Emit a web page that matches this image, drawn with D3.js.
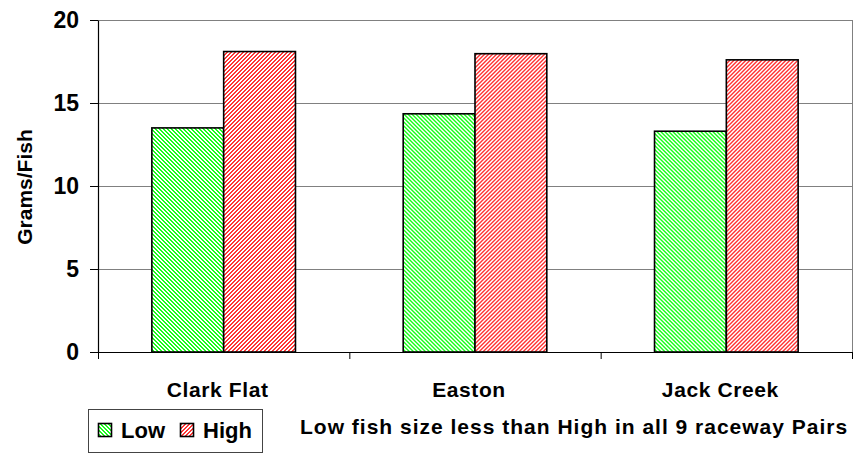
<!DOCTYPE html>
<html>
<head>
<meta charset="utf-8">
<script src="https://cdn.jsdelivr.net/npm/d3@7"></script>
<style>
  html, body { margin: 0; padding: 0; background: #fff; }
  svg { display: block; font-family: Arial, "Liberation Sans", sans-serif; font-weight: bold; }
</style>
</head>
<body>
<svg id="chart" width="854" height="454"></svg>
<script>
// Mean fish weight per hatchery, low vs high groups
const categories = ["Clark Flat", "Easton", "Jack Creek"];
const seriesNames = ["Low", "High"];
const lowValues = [13.5, 14.35, 13.3];
const highValues = [18.1, 17.97, 17.6];
const yTicks = [0, 5, 10, 15, 20];
const yTitle = "Grams/Fish";
const note = "Low fish size less than High in all 9 raceway Pairs";

const seriesValues = [lowValues, highValues];
const seriesColors = ["#1aff1a", "#ff3535"];

const svg = d3.select("#chart");
const plot = { left: 98, right: 852, top: 20, bottom: 352 };

// Diagonal hatch fills
const defs = svg.append("defs");
seriesColors.forEach((c, i) => {
  const p = defs.append("pattern")
    .attr("id", "hatch" + i)
    .attr("patternUnits", "userSpaceOnUse")
    .attr("width", 4).attr("height", 4);
  p.append("rect").attr("width", 4).attr("height", 4).attr("fill", "#fff");
  for (let yy = 0; yy < 4; yy++) {
    for (let xx = 0; xx < 4; xx++) {
      const k = i === 0 ? ((xx - yy + 8) % 4) : ((xx + yy) % 4);
      if (k < 2) p.append("rect").attr("x", xx).attr("y", yy).attr("width", 1).attr("height", 1).attr("fill", c);
    }
  }
});

const x = d3.scaleBand().domain(categories).range([plot.left, plot.right]).paddingInner(0).paddingOuter(0);
const xs = d3.scaleBand().domain(seriesNames).range([0, x.bandwidth()]).paddingInner(0).paddingOuter(0.75);
const y = d3.scaleLinear().domain([0, 20]).range([plot.bottom, plot.top]);

// Gridlines
svg.append("g").selectAll("line").data(yTicks.filter(d => d > 0)).join("line")
  .attr("x1", plot.left).attr("x2", plot.right)
  .attr("y1", d => y(d) + 0.5).attr("y2", d => y(d) + 0.5)
  .attr("stroke", "#808080").attr("stroke-width", 1);

// Plot area right border
svg.append("line")
  .attr("x1", plot.right + 0.5).attr("x2", plot.right + 0.5)
  .attr("y1", plot.top).attr("y2", plot.bottom)
  .attr("stroke", "#808080");

// Bars
const rows = categories.map((c, i) => ({ cat: c, vals: seriesNames.map((s, j) => ({ s, j, v: seriesValues[j][i] })) }));
svg.append("g").selectAll("g").data(rows).join("g")
  .attr("transform", d => `translate(${x(d.cat)},0)`)
  .selectAll("rect").data(d => d.vals).join("rect")
  .attr("x", d => xs(d.s))
  .attr("y", d => y(d.v))
  .attr("width", xs.bandwidth())
  .attr("height", d => y(0) - y(d.v))
  .attr("fill", d => `url(#hatch${d.j})`)
  .attr("stroke", "#000").attr("stroke-width", 1.6);

// Y axis
const yAxis = svg.append("g")
  .attr("transform", `translate(${plot.left},0)`)
  .call(d3.axisLeft(y).tickValues(yTicks).tickSize(8).tickPadding(11).tickSizeOuter(0));
yAxis.select(".domain").attr("stroke", "#000").attr("stroke-width", 1.2);
yAxis.selectAll(".tick line").attr("stroke", "#000");
yAxis.selectAll("text").attr("font-size", 23).attr("font-weight", "bold").attr("fill", "#000")
  .attr("font-family", "Arial, 'Liberation Sans', sans-serif");

// X axis: ticks on the category boundaries
const xAxisG = svg.append("g").attr("transform", `translate(0,${plot.bottom})`);
xAxisG.append("line").attr("x1", plot.left).attr("x2", plot.right + 1)
  .attr("y1", 0.5).attr("y2", 0.5).attr("stroke", "#000").attr("stroke-width", 1.2);
const bounds = categories.map(c => x(c)).concat([x(categories[categories.length - 1]) + x.bandwidth()]);
xAxisG.selectAll("line.tk").data(bounds).join("line").attr("class", "tk")
  .attr("x1", d => d + 0.5).attr("x2", d => d + 0.5).attr("y1", 0).attr("y2", 7)
  .attr("stroke", "#000");
xAxisG.selectAll("text").data(categories).join("text")
  .attr("x", d => x(d) + x.bandwidth() / 2 - 6)
  .attr("y", 45)
  .attr("text-anchor", "middle")
  .attr("font-size", 21)
  .attr("letter-spacing", 0.6)
  .text(d => d);

// Y title
svg.append("text")
  .attr("transform", `translate(32,187) rotate(-90)`)
  .attr("text-anchor", "middle")
  .attr("font-size", 21)
  .text(yTitle);

// Legend
const lg = svg.append("g");
lg.append("rect").attr("x", 88.5).attr("y", 409.5).attr("width", 174).attr("height", 43)
  .attr("fill", "#fff").attr("stroke", "#444").attr("stroke-width", 1);
const legendPos = [{ sx: 98, tx: 121 }, { sx: 180, tx: 203 }];
seriesNames.forEach((s, i) => {
  lg.append("rect").attr("x", legendPos[i].sx + 0.5).attr("y", 423.5).attr("width", 13).attr("height", 13)
    .attr("fill", `url(#hatch${i})`).attr("stroke", "#000").attr("stroke-width", 1.6);
  lg.append("text").attr("x", legendPos[i].tx).attr("y", 438).attr("font-size", 22).text(s);
});

// Note
svg.append("text")
  .attr("x", 300).attr("y", 434)
  .attr("font-size", 21)
  .attr("letter-spacing", 1.0)
  .text(note);
</script>
</body>
</html>
